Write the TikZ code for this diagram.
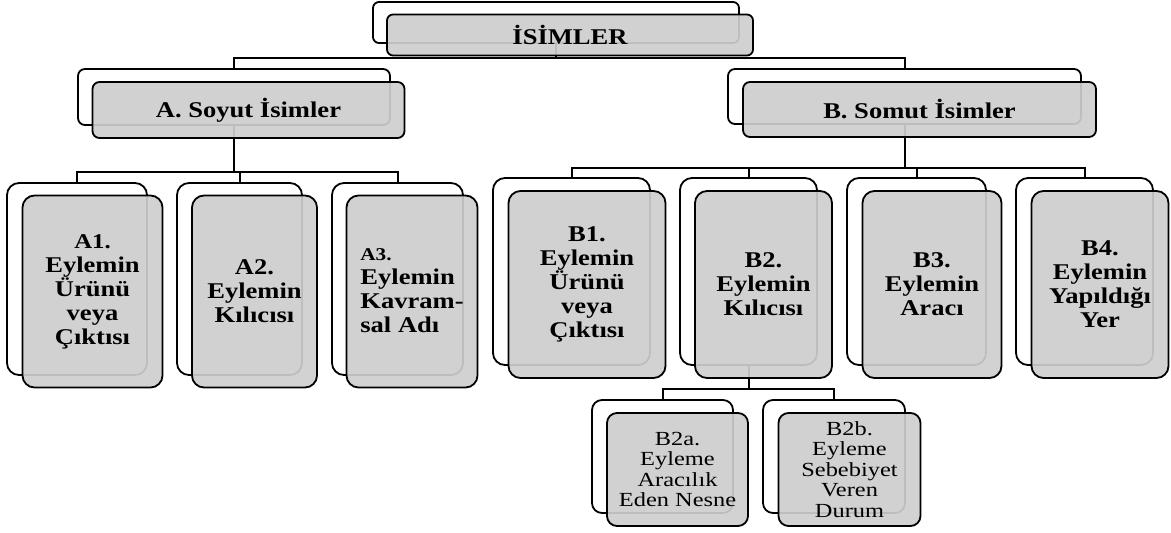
\documentclass[tikz,border=0pt]{standalone}
\usepackage{fontspec}
\setmainfont{Liberation Serif}[FakeStretch=1.18]
\newfontfamily\widefont{Liberation Serif}[FakeStretch=1.22]
\usetikzlibrary{backgrounds}
\definecolor{boxgray}{RGB}{206,206,206}
\newcommand\bigtxt{\fontsize{22.5}{25}\selectfont\bfseries}
\newcommand\midtxt{\fontsize{22.5}{24}\selectfont\bfseries}
\newcommand\smtxt{\widefont\fontsize{20}{20.6}\selectfont}
\tikzset{
  backbox/.style={draw=black, line width=1.8pt, fill=white, inner sep=0pt},
  frontbox/.style={draw=black, line width=1.8pt, fill=boxgray, fill opacity=0.92, text opacity=1, inner sep=0pt, align=center, text=black},
  conn/.style={draw=black, line width=2pt},
  lvlzero/.style={rounded corners=6pt, font=\bigtxt},
  lvlone/.style={rounded corners=7pt, font=\bigtxt},
  lvltwo/.style={rounded corners=12pt, font=\midtxt},
  lvlthree/.style={rounded corners=10pt, font=\smtxt},
}
\newcommand\twobox[9]{%
  \pgfmathsetmacro\bxcx{(#2+#4)/2}%
  \pgfmathsetmacro\bxcy{(#3+#5)/2}%
  \pgfmathsetmacro\bxw{#4-#2}%
  \pgfmathsetmacro\bxh{#5-#3}%
  \node[backbox, #8, minimum width=\bxw pt, minimum height=\bxh pt] (#1) at (\bxcx,\bxcy) {};
  \node[frontbox, #8, minimum width=\bxw pt, minimum height=\bxh pt] (#1g) at ({\bxcx+#6},{\bxcy+#7}) {#9};
}
\begin{document}
\begin{tikzpicture}[x=1pt,y=-1pt]
\useasboundingbox (0,0) rectangle (1171,533);
% level 0
\twobox{I}{373}{2}{739}{43}{14}{12.5}{lvlzero}{İSİMLER}
% level 1
\twobox{A}{78}{69}{390}{125}{14.5}{13}{lvlone}{A. Soyut İsimler}
\twobox{B}{728}{69}{1081}{124}{15}{13}{lvlone}{B. Somut İsimler}
% A children
\twobox{A1}{7}{183}{147}{375}{15.5}{12.5}{lvltwo}{{\fontsize{21}{24}\selectfont A1.}\\Eylemin\\Ürünü\\veya\\Çıktısı}
\twobox{A2}{177}{183}{302}{375}{15}{12.5}{lvltwo}{A2.\\Eylemin\\Kılıcısı}
\twobox{A3}{332}{183}{463}{375}{14.5}{12.5}{lvltwo}{\begin{tabular}{@{}l@{}}{\fontsize{18}{20}\selectfont A3.}\\Eylemin\\Kavram-\\sal Adı\end{tabular}}
% B children
\twobox{B1}{493}{178}{650}{365}{15.5}{13}{lvltwo}{B1.\\Eylemin\\Ürünü\\veya\\Çıktısı}
\twobox{B2}{680}{178}{817}{365}{15}{13}{lvltwo}{B2.\\Eylemin\\Kılıcısı}
\twobox{B3}{847}{178}{986}{365}{15.5}{13}{lvltwo}{B3.\\Eylemin\\Aracı}
\twobox{B4}{1016}{178}{1153}{365}{15.5}{13}{lvltwo}{B4.\\Eylemin\\Yapıldığı\\Yer}
% B2 children
\twobox{B2a}{592}{400}{733}{513}{15}{13}{lvlthree}{B2a.\\Eyleme\\Aracılık\\Eden Nesne}
\twobox{B2b}{763}{400}{905}{513}{15.5}{13}{lvlthree}{B2b.\\Eyleme\\Sebebiyet\\Veren\\Durum}
% connectors
\begin{pgfonlayer}{background}
\draw[conn] (I.south) -- (I.south |- 0,58) coordinate (jI) -| (A.north);
\draw[conn] (jI) -| (B.north);
\draw[conn] (A.south) -- (A.south |- 0,172) coordinate (jA) -| (A1.north);
\draw[conn] (jA) -| (A2.north);
\draw[conn] (jA) -| (A3.north);
\draw[conn] (B.south) -- (B.south |- 0,167.5) coordinate (jB) -| (B1.north);
\draw[conn] (jB) -| (B2.north);
\draw[conn] (jB) -| (B3.north);
\draw[conn] (jB) -| (B4.north);
\draw[conn] (B2.south) -- (B2.south |- 0,389) coordinate (jB2) -| (B2a.north);
\draw[conn] (jB2) -| (B2b.north);
\end{pgfonlayer}
\end{tikzpicture}
\end{document}
